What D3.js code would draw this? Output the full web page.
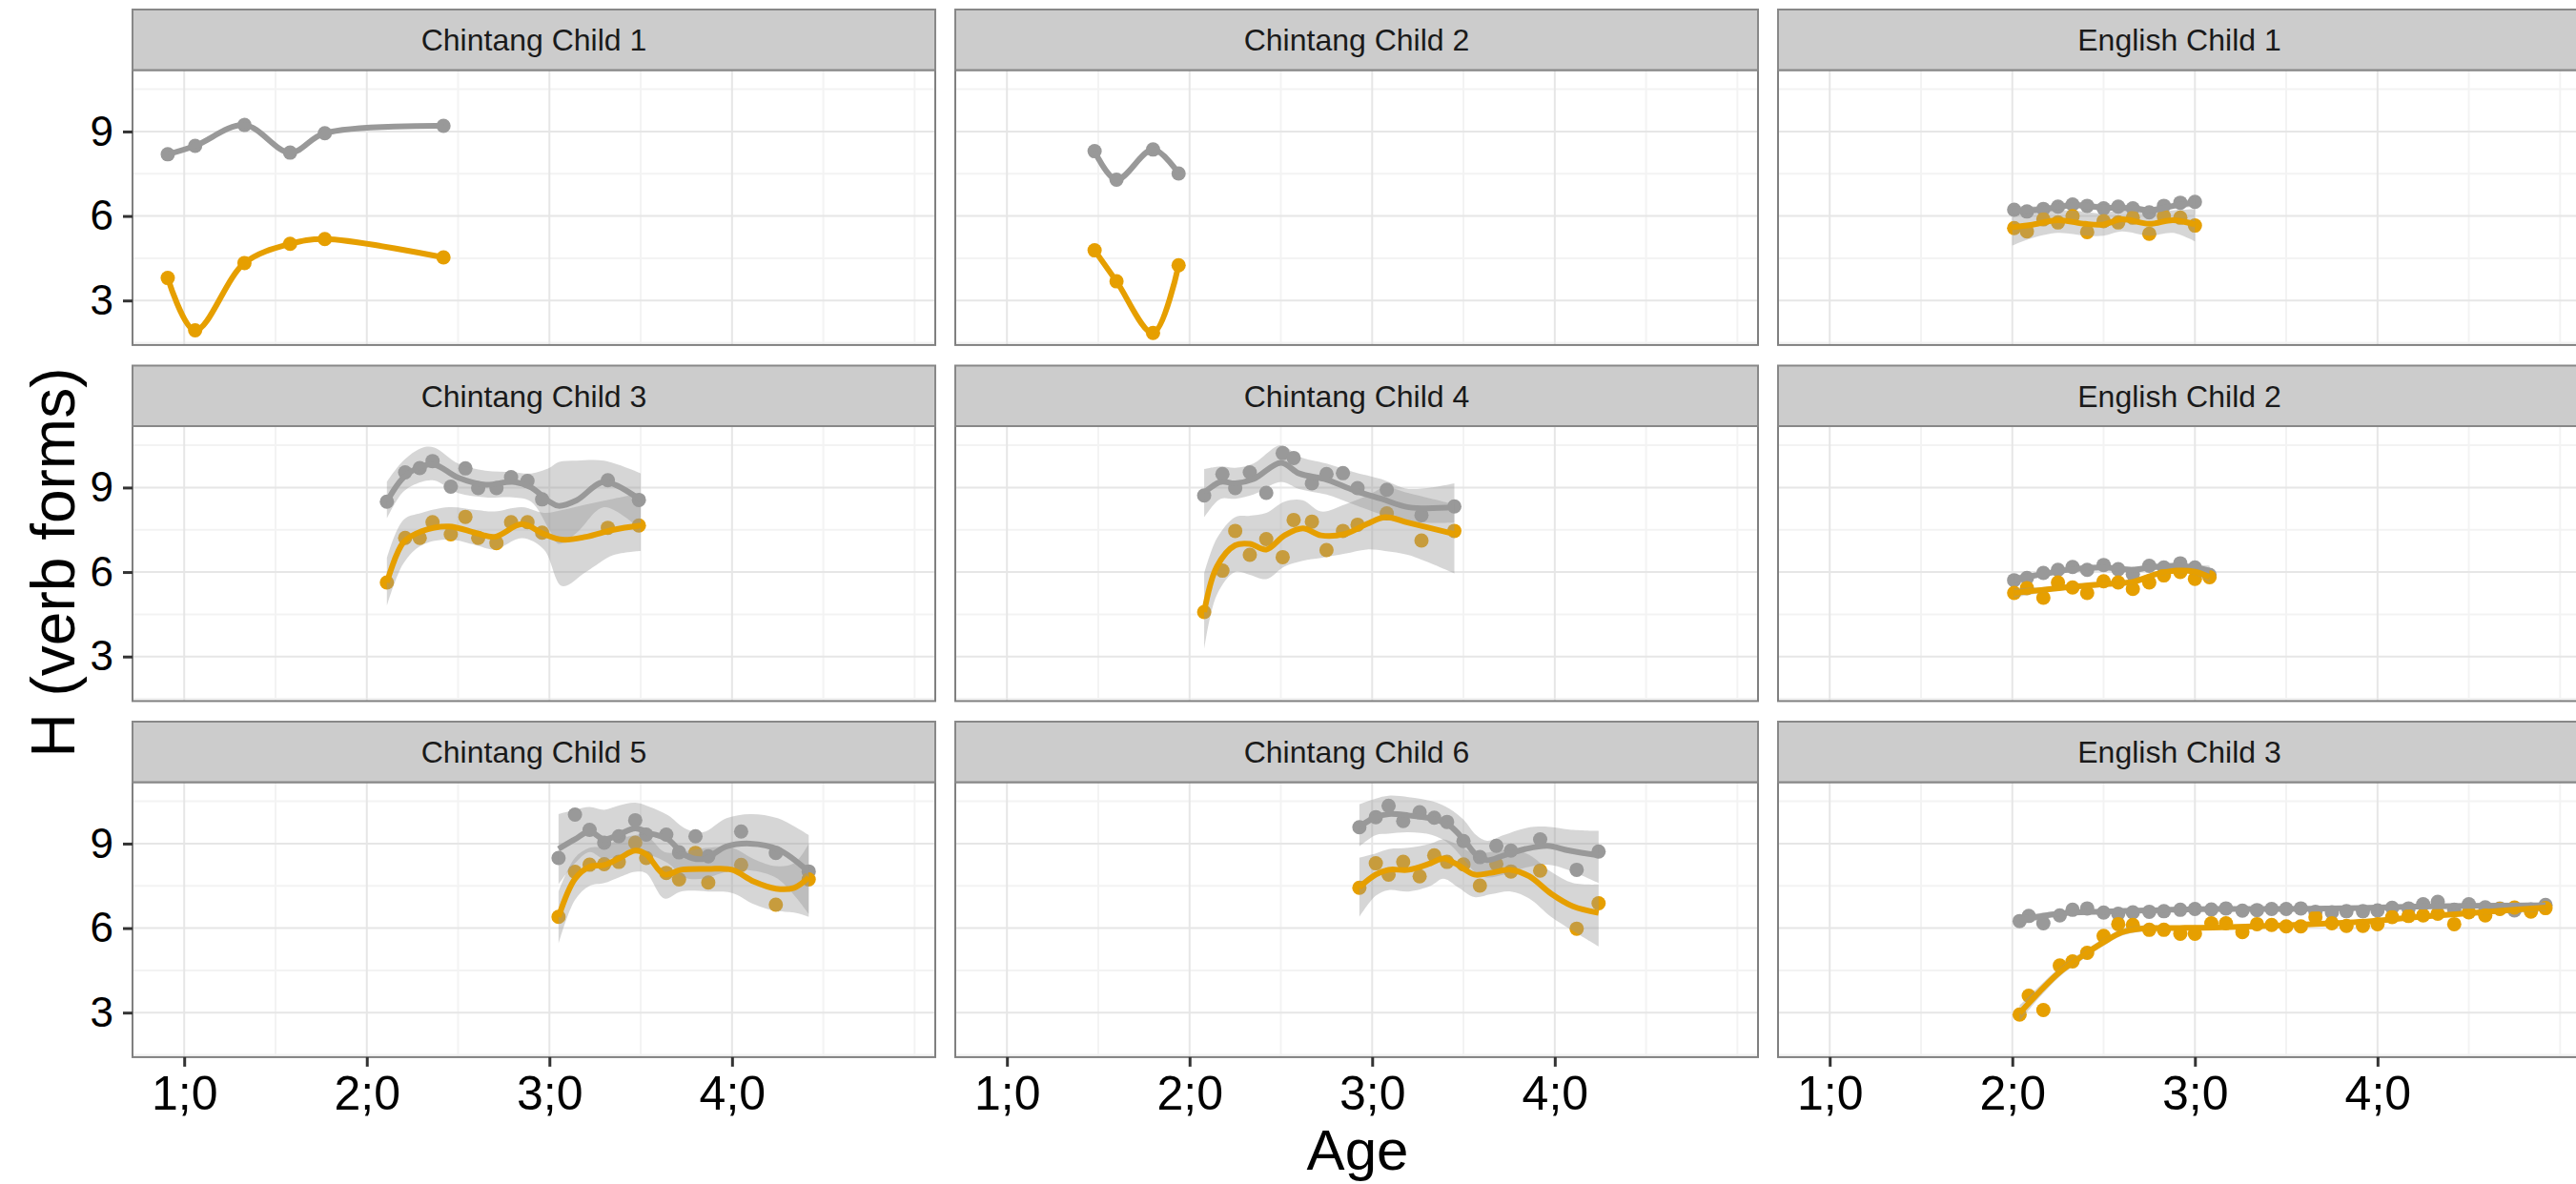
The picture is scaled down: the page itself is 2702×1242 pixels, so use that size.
<!DOCTYPE html>
<html>
<head>
<meta charset="utf-8">
<script src="https://cdn.jsdelivr.net/npm/d3@7"></script>
<style>
  body { margin: 0; background: #fff; }
  svg { display: block; font-family: "Liberation Sans", Arial, sans-serif; }
</style>
</head>
<body>
<div id="chart"></div>
<script>
// facet titles, in grid order (row by row)
const panelTitles = ["Chintang Child 1", "Chintang Child 2", "English Child 1",
                     "Chintang Child 3", "Chintang Child 4", "English Child 2",
                     "Chintang Child 5", "Chintang Child 6", "English Child 3"];

const xTicks = [1, 2, 3, 4];
const xTickLabels = ["1;0", "2;0", "3;0", "4;0"];
const yTicks = [3, 6, 9];

// Chintang Child 1
const c1Age = [0.91, 1.06, 1.33, 1.58, 1.77, 2.42];
const c1Gray = [8.19, 8.49, 9.23, 8.25, 8.94, 9.20];
const c1Orange = [3.80, 1.94, 4.33, 5.01, 5.18, 4.53];

// Chintang Child 2
const c2Age = [1.48, 1.60, 1.80, 1.94];
const c2Gray = [8.30, 7.29, 8.36, 7.51];
const c2Orange = [4.78, 3.68, 1.85, 4.25];

// English Child 1
const e1Age = [2.01, 2.08, 2.17, 2.25, 2.33, 2.41, 2.50, 2.58, 2.66, 2.75, 2.83, 2.92, 3.00];
const e1Gray = [6.22, 6.16, 6.25, 6.33, 6.41, 6.36, 6.27, 6.33, 6.27, 6.13, 6.36, 6.47, 6.50];
const e1Orange = [5.57, 5.45, 5.88, 5.77, 5.99, 5.43, 5.82, 5.77, 5.94, 5.37, 5.99, 5.94, 5.66];
// smooth fits: [age, fit, lower, upper]
const e1GraySmooth = [[2.0, 6.18, 6.02, 6.34], [2.17, 6.24, 6.12, 6.36], [2.33, 6.38, 6.27, 6.49],
  [2.5, 6.30, 6.19, 6.41], [2.66, 6.28, 6.17, 6.39], [2.75, 6.20, 6.09, 6.31], [2.9, 6.38, 6.27, 6.49],
  [3.0, 6.48, 6.32, 6.64]];
const e1OrangeSmooth = [[2.0, 5.60, 4.95, 6.05], [2.1, 5.68, 5.2, 6.1], [2.25, 5.85, 5.4, 6.2],
  [2.4, 5.72, 5.3, 6.15], [2.5, 5.70, 5.3, 6.1], [2.6, 5.88, 5.45, 6.25], [2.75, 5.72, 5.3, 6.15],
  [2.88, 5.85, 5.4, 6.2], [3.0, 5.70, 5.1, 6.25]];

// Chintang Child 3
const c3Age = [2.11, 2.21, 2.29, 2.36, 2.46, 2.54, 2.61, 2.71, 2.79, 2.88, 2.96, 3.32, 3.49];
const c3Gray = [8.50, 9.54, 9.69, 9.94, 9.03, 9.68, 8.98, 8.98, 9.37, 9.23, 8.58, 9.26, 8.56];
const c3Orange = [5.63, 7.21, 7.21, 7.77, 7.34, 7.96, 7.21, 7.03, 7.77, 7.77, 7.40, 7.57, 7.65];
const c3GraySmooth = [[2.11, 8.5, 7.9, 9.2], [2.2, 9.35, 8.85, 9.95], [2.3, 9.75, 9.2, 10.4],
  [2.37, 9.82, 9.25, 10.42], [2.5, 9.35, 8.8, 9.85], [2.65, 9.1, 8.65, 9.6], [2.8, 9.2, 8.65, 9.55],
  [2.9, 9.0, 8.5, 9.5], [3.0, 8.5, 7.5, 9.7], [3.05, 8.35, 7.0, 9.9], [3.15, 8.55, 7.4, 9.95],
  [3.3, 9.2, 8.3, 9.95], [3.5, 8.55, 7.5, 9.5]];
const c3OrangeSmooth = [[2.11, 5.63, 4.8, 6.5], [2.2, 7.05, 6.3, 7.85], [2.3, 7.45, 6.95, 8.1],
  [2.45, 7.62, 7.15, 8.3], [2.6, 7.38, 6.95, 8.2], [2.7, 7.25, 6.8, 8.15], [2.85, 7.7, 7.2, 8.3],
  [2.97, 7.35, 6.8, 8.1], [3.07, 7.15, 5.5, 8.2], [3.2, 7.25, 6.0, 8.4], [3.35, 7.5, 6.6, 8.6],
  [3.5, 7.65, 6.75, 8.8]];

// Chintang Child 4
const c4Age = [2.08, 2.18, 2.25, 2.33, 2.42, 2.51, 2.57, 2.67, 2.75, 2.84, 2.92, 3.08, 3.27, 3.45];
const c4Gray = [8.72, 9.48, 8.98, 9.54, 8.81, 10.22, 10.05, 9.15, 9.48, 9.51, 8.98, 8.92, 8.02, 8.33];
const c4Orange = [4.58, 6.05, 7.46, 6.61, 7.17, 6.53, 7.85, 7.79, 6.78, 7.46, 7.68, 8.08, 7.12, 7.46];
const c4GraySmooth = [[2.08, 8.81, 7.95, 9.65], [2.17, 9.2, 8.6, 9.75], [2.25, 9.15, 8.6, 9.7],
  [2.35, 9.3, 8.75, 9.85], [2.5, 9.88, 9.2, 10.5], [2.6, 9.5, 8.95, 10.1], [2.75, 9.28, 8.75, 9.85],
  [2.9, 8.9, 8.4, 9.55], [3.05, 8.6, 8.05, 9.3], [3.2, 8.3, 7.8, 8.95], [3.45, 8.3, 7.75, 9.15]];
const c4OrangeSmooth = [[2.08, 4.58, 3.25, 5.95], [2.15, 6.2, 5.2, 7.2], [2.25, 6.95, 6.0, 7.95],
  [2.33, 7.0, 5.9, 8.0], [2.42, 6.8, 5.75, 8.1], [2.52, 7.3, 6.2, 8.5], [2.62, 7.55, 6.4, 8.55],
  [2.72, 7.3, 6.5, 8.15], [2.85, 7.35, 6.65, 8.4], [2.97, 7.7, 6.8, 8.7], [3.07, 7.95, 6.75, 9.0],
  [3.2, 7.75, 6.6, 8.8], [3.45, 7.35, 5.95, 8.4]];

// English Child 2
const e2Age = [2.01, 2.08, 2.17, 2.25, 2.33, 2.41, 2.50, 2.58, 2.66, 2.75, 2.83, 2.92, 3.00, 3.08];
const e2Gray = [5.71, 5.79, 5.97, 6.08, 6.18, 6.08, 6.25, 6.10, 5.93, 6.22, 6.16, 6.31, 6.16, 5.90];
const e2Orange = [5.26, 5.43, 5.09, 5.63, 5.45, 5.26, 5.67, 5.63, 5.40, 5.63, 5.88, 6.00, 5.76, 5.82];
const e2GraySmooth = [[2.01, 5.74, 5.6, 5.88], [2.17, 5.93, 5.83, 6.03], [2.33, 6.1, 6.0, 6.2],
  [2.5, 6.16, 6.06, 6.26], [2.66, 6.08, 5.98, 6.18], [2.75, 6.16, 6.06, 6.26], [2.9, 6.22, 6.12, 6.32],
  [3.0, 6.16, 6.05, 6.27], [3.08, 6.05, 5.88, 6.22]];
const e2OrangeSmooth = [[2.01, 5.26, 5.1, 5.42], [2.17, 5.37, 5.27, 5.47], [2.33, 5.48, 5.38, 5.58],
  [2.5, 5.57, 5.47, 5.67], [2.66, 5.65, 5.55, 5.75], [2.79, 5.93, 5.83, 6.03], [2.9, 6.05, 5.95, 6.15],
  [3.0, 6.01, 5.9, 6.12], [3.08, 5.82, 5.62, 6.02]];

// Chintang Child 5
const c5Age = [3.05, 3.14, 3.22, 3.30, 3.38, 3.47, 3.53, 3.64, 3.71, 3.80, 3.87, 4.05, 4.24, 4.42];
const c5Gray = [8.49, 10.03, 9.49, 9.03, 9.26, 9.83, 9.32, 9.32, 8.69, 9.26, 8.55, 9.43, 8.67, 8.01];
const c5Orange = [6.40, 8.00, 8.25, 8.27, 8.35, 9.03, 8.49, 7.96, 7.73, 8.67, 7.62, 8.24, 6.83, 7.73];
const c5GraySmooth = [[3.05, 8.81, 7.55, 10.05], [3.14, 9.15, 8.3, 10.2], [3.22, 9.43, 8.7, 10.3],
  [3.3, 9.15, 8.45, 10.2], [3.38, 9.32, 8.55, 10.35], [3.47, 9.54, 8.75, 10.45], [3.55, 9.37, 8.6, 10.3],
  [3.65, 9.15, 8.3, 10.0], [3.74, 8.6, 7.8, 9.55], [3.84, 8.45, 7.75, 9.4], [3.97, 8.9, 8.0, 9.9],
  [4.1, 9.0, 8.05, 10.05], [4.25, 8.8, 7.75, 9.9], [4.42, 8.0, 6.5, 9.3]];
const c5OrangeSmooth = [[3.05, 6.4, 5.45, 7.3], [3.14, 7.75, 7.0, 8.5], [3.22, 8.18, 7.5, 8.85],
  [3.3, 8.24, 7.6, 8.9], [3.38, 8.47, 7.8, 9.15], [3.47, 8.75, 8.0, 9.3], [3.53, 8.62, 7.95, 9.3],
  [3.63, 7.9, 7.05, 8.7], [3.72, 8.07, 7.3, 8.7], [3.87, 8.1, 7.3, 8.85], [4.0, 8.07, 7.25, 8.85],
  [4.12, 7.65, 6.85, 8.45], [4.24, 7.4, 6.6, 8.2], [4.34, 7.43, 6.55, 8.3], [4.42, 7.8, 6.4, 9.0]];

// Chintang Child 6
const c6Age = [2.93, 3.02, 3.09, 3.17, 3.26, 3.34, 3.41, 3.50, 3.59, 3.68, 3.76, 3.92, 4.12, 4.24];
const c6Gray = [9.58, 9.94, 10.34, 9.80, 10.11, 9.92, 9.77, 9.09, 8.52, 8.92, 8.75, 9.15, 8.07, 8.72];
const c6Orange = [7.43, 8.30, 7.90, 8.35, 7.84, 8.58, 8.35, 8.26, 7.51, 8.28, 8.01, 8.04, 5.98, 6.88];
const c6GraySmooth = [[2.93, 9.6, 8.9, 10.4], [3.02, 9.94, 9.3, 10.6], [3.09, 10.05, 9.35, 10.7],
  [3.2, 10.0, 9.4, 10.65], [3.33, 9.88, 9.3, 10.5], [3.42, 9.66, 9.0, 10.25], [3.5, 9.15, 8.45, 9.85],
  [3.57, 8.6, 7.95, 9.3], [3.63, 8.41, 7.8, 9.1], [3.72, 8.58, 7.9, 9.3], [3.84, 8.81, 8.15, 9.55],
  [3.96, 8.92, 8.25, 9.6], [4.08, 8.75, 8.05, 9.5], [4.24, 8.58, 7.6, 9.45]];
const c6OrangeSmooth = [[2.93, 7.45, 6.4, 8.5], [3.02, 7.9, 7.15, 8.65], [3.09, 8.07, 7.35, 8.8],
  [3.2, 8.07, 7.3, 8.85], [3.32, 8.3, 7.5, 9.0], [3.39, 8.47, 7.75, 9.15], [3.47, 8.24, 7.45, 8.95],
  [3.56, 7.9, 7.1, 8.65], [3.65, 7.96, 7.2, 8.7], [3.76, 8.07, 7.3, 8.8], [3.86, 7.84, 7.05, 8.6],
  [3.98, 7.22, 6.4, 8.0], [4.1, 6.77, 5.9, 7.6], [4.24, 6.54, 5.35, 7.55]];

// English Child 3
const e3Age = [2.04, 2.09, 2.17, 2.26, 2.33, 2.41, 2.50, 2.58, 2.66, 2.75, 2.83, 2.92, 3.00, 3.09,
  3.17, 3.26, 3.34, 3.42, 3.50, 3.58, 3.66, 3.75, 3.83, 3.92, 4.00, 4.08, 4.17, 4.25, 4.33, 4.42,
  4.50, 4.59, 4.67, 4.75, 4.84, 4.92];
const e3Gray = [6.25, 6.43, 6.17, 6.45, 6.65, 6.70, 6.55, 6.51, 6.56, 6.58, 6.60, 6.65, 6.68, 6.66,
  6.70, 6.62, 6.64, 6.68, 6.68, 6.70, 6.58, 6.56, 6.60, 6.60, 6.63, 6.72, 6.70, 6.85, 6.93, 6.65,
  6.85, 6.74, 6.70, 6.63, 6.66, 6.82];
const e3Orange = [2.93, 3.60, 3.09, 4.67, 4.82, 5.12, 5.72, 6.14, 6.11, 5.94, 5.94, 5.80, 5.80, 6.17,
  6.17, 5.86, 6.14, 6.11, 6.06, 6.06, 6.39, 6.17, 6.08, 6.08, 6.14, 6.39, 6.43, 6.45, 6.51, 6.14,
  6.56, 6.45, 6.68, 6.73, 6.59, 6.71];
const e3GraySmooth = [[2.04, 6.28, 6.12, 6.44], [2.25, 6.51, 6.42, 6.6], [2.5, 6.59, 6.5, 6.68],
  [2.8, 6.64, 6.57, 6.71], [3.1, 6.68, 6.61, 6.75], [3.5, 6.68, 6.61, 6.75], [3.9, 6.71, 6.64, 6.78],
  [4.2, 6.76, 6.68, 6.84], [4.5, 6.79, 6.7, 6.88], [4.92, 6.8, 6.67, 6.93]];
const e3OrangeSmooth = [[2.04, 2.98, 2.7, 3.26], [2.15, 3.75, 3.55, 3.95], [2.26, 4.44, 4.28, 4.6],
  [2.38, 5.0, 4.86, 5.14], [2.5, 5.5, 5.37, 5.63], [2.6, 5.85, 5.73, 5.97], [2.7, 5.98, 5.87, 6.09],
  [2.85, 6.0, 5.91, 6.09], [3.1, 6.02, 5.94, 6.1], [3.5, 6.1, 6.02, 6.18], [3.9, 6.22, 6.14, 6.3],
  [4.2, 6.38, 6.3, 6.46], [4.5, 6.53, 6.44, 6.62], [4.92, 6.73, 6.6, 6.86]];

// table for drawing, built from the arrays above
const panels = [
  { age: c1Age, gray: c1Gray, orange: c1Orange, graySm: null, orangeSm: null },
  { age: c2Age, gray: c2Gray, orange: c2Orange, graySm: null, orangeSm: null },
  { age: e1Age, gray: e1Gray, orange: e1Orange, graySm: e1GraySmooth, orangeSm: e1OrangeSmooth },
  { age: c3Age, gray: c3Gray, orange: c3Orange, graySm: c3GraySmooth, orangeSm: c3OrangeSmooth },
  { age: c4Age, gray: c4Gray, orange: c4Orange, graySm: c4GraySmooth, orangeSm: c4OrangeSmooth },
  { age: e2Age, gray: e2Gray, orange: e2Orange, graySm: e2GraySmooth, orangeSm: e2OrangeSmooth },
  { age: c5Age, gray: c5Gray, orange: c5Orange, graySm: c5GraySmooth, orangeSm: c5OrangeSmooth },
  { age: c6Age, gray: c6Gray, orange: c6Orange, graySm: c6GraySmooth, orangeSm: c6OrangeSmooth },
  { age: e3Age, gray: e3Gray, orange: e3Orange, graySm: e3GraySmooth, orangeSm: e3OrangeSmooth }
].map(function (p, i) { p.title = panelTitles[i]; return p; });

let w = 2702, h = 1242;
let left0 = 139, top0 = 10;
let panelW = 842, panelH = 288.4, stripH = 63.5;
let colGap = 21, rowGap = 21.6;
let xDomain = [0.717, 5.113], yDomain = [1.42, 11.18];
let grayCol = "#999999", orangeCol = "#E69F00";

let svg = d3.select("#chart")
  .append("svg")
  .attr("width", w)
  .attr("height", h);

svg.append("rect").attr("width", w).attr("height", h).attr("fill", "#fff");

panels.forEach(function (p, i) {
  let col = i % 3, row = Math.floor(i / 3);
  let x0 = left0 + col * (panelW + colGap);
  let sy = top0 + row * (stripH + panelH + rowGap);
  let y0 = sy + stripH;

  let xScale = d3.scaleLinear().domain(xDomain).range([x0, x0 + panelW]);
  let yScale = d3.scaleLinear().domain(yDomain).range([y0 + panelH, y0]);

  let g = svg.append("g");

  g.append("clipPath").attr("id", "clip" + i)
    .append("rect")
    .attr("x", x0).attr("y", y0).attr("width", panelW).attr("height", panelH);

  // grid
  let grid = g.append("g");
  grid.selectAll(".vminor").data([1.5, 2.5, 3.5, 4.5, 5]).enter().append("line")
    .attr("x1", d => xScale(d)).attr("x2", d => xScale(d))
    .attr("y1", y0).attr("y2", y0 + panelH)
    .attr("stroke", "#f3f3f3").attr("stroke-width", 2);
  grid.selectAll(".hminor").data([1.5, 4.5, 7.5, 10.5]).enter().append("line")
    .attr("y1", d => yScale(d)).attr("y2", d => yScale(d))
    .attr("x1", x0).attr("x2", x0 + panelW)
    .attr("stroke", "#f3f3f3").attr("stroke-width", 2);
  grid.selectAll(".vmajor").data(xTicks).enter().append("line")
    .attr("x1", d => xScale(d)).attr("x2", d => xScale(d))
    .attr("y1", y0).attr("y2", y0 + panelH)
    .attr("stroke", "#e6e6e6").attr("stroke-width", 2);
  grid.selectAll(".hmajor").data(yTicks).enter().append("line")
    .attr("y1", d => yScale(d)).attr("y2", d => yScale(d))
    .attr("x1", x0).attr("x2", x0 + panelW)
    .attr("stroke", "#e6e6e6").attr("stroke-width", 2);

  let plot = g.append("g").attr("clip-path", "url(#clip" + i + ")");

  // points first
  [[p.gray, grayCol], [p.orange, orangeCol]].forEach(function (s) {
    plot.append("g").selectAll("circle")
      .data(s[0])
      .enter()
      .append("circle")
      .attr("cx", (d, j) => xScale(p.age[j]))
      .attr("cy", d => yScale(d))
      .attr("r", 7.5)
      .attr("fill", s[1]);
  });

  // smooths: ribbon + line
  [[p.gray, p.graySm, grayCol], [p.orange, p.orangeSm, orangeCol]].forEach(function (s) {
    if (s[1]) {
      let area = d3.area()
        .x(d => xScale(d[0]))
        .y0(d => yScale(d[2]))
        .y1(d => yScale(d[3]))
        .curve(d3.curveCatmullRom);
      plot.append("path").datum(s[1])
        .attr("d", area)
        .attr("fill", "#999999")
        .attr("fill-opacity", 0.4);
      let line = d3.line()
        .x(d => xScale(d[0]))
        .y(d => yScale(d[1]))
        .curve(d3.curveCatmullRom);
      plot.append("path").datum(s[1])
        .attr("d", line)
        .attr("fill", "none")
        .attr("stroke", s[2])
        .attr("stroke-width", 6);
    } else {
      let line = d3.line()
        .x((d, j) => xScale(p.age[j]))
        .y(d => yScale(d))
        .curve(d3.curveCatmullRom);
      plot.append("path").datum(s[0])
        .attr("d", line)
        .attr("fill", "none")
        .attr("stroke", s[2])
        .attr("stroke-width", 6);
    }
  });

  // panel border
  g.append("rect")
    .attr("x", x0).attr("y", y0).attr("width", panelW).attr("height", panelH)
    .attr("fill", "none").attr("stroke", "#808080").attr("stroke-width", 2);

  // strip
  g.append("rect")
    .attr("x", x0).attr("y", sy).attr("width", panelW).attr("height", stripH)
    .attr("fill", "#cccccc").attr("stroke", "#888888").attr("stroke-width", 2);
  g.append("text")
    .attr("x", x0 + panelW / 2)
    .attr("y", sy + stripH / 2 + 11.5)
    .attr("text-anchor", "middle")
    .attr("font-size", 32)
    .attr("fill", "#1a1a1a")
    .text(p.title);

  // axes
  if (col === 0) {
    let yAxis = d3.axisLeft(yScale).tickValues(yTicks).tickSize(10).tickPadding(10);
    let ya = g.append("g").attr("transform", "translate(" + x0 + ",0)").call(yAxis);
    ya.select(".domain").remove();
    ya.selectAll("line").attr("stroke", "#333").attr("stroke-width", 3);
    ya.selectAll("text").attr("font-size", 44).attr("fill", "#000")
      .attr("font-family", "Liberation Sans, Arial, sans-serif");
  }
  if (row === 2) {
    let xAxis = d3.axisBottom(xScale).tickValues(xTicks)
      .tickFormat((d, j) => xTickLabels[j]).tickSize(10).tickPadding(10);
    let xa = g.append("g").attr("transform", "translate(0," + (y0 + panelH) + ")").call(xAxis);
    xa.select(".domain").remove();
    xa.selectAll("line").attr("stroke", "#333").attr("stroke-width", 3);
    xa.selectAll("text").attr("font-size", 50).attr("fill", "#000")
      .attr("font-family", "Liberation Sans, Arial, sans-serif");
  }
});

// axis titles
svg.append("text")
  .attr("transform", "translate(78,590) rotate(-90)")
  .attr("text-anchor", "middle")
  .attr("font-size", 64)
  .attr("fill", "#000")
  .text("H (verb forms)");

svg.append("text")
  .attr("x", 1424)
  .attr("y", 1227)
  .attr("text-anchor", "middle")
  .attr("font-size", 60)
  .attr("fill", "#000")
  .text("Age");
</script>
</body>
</html>
